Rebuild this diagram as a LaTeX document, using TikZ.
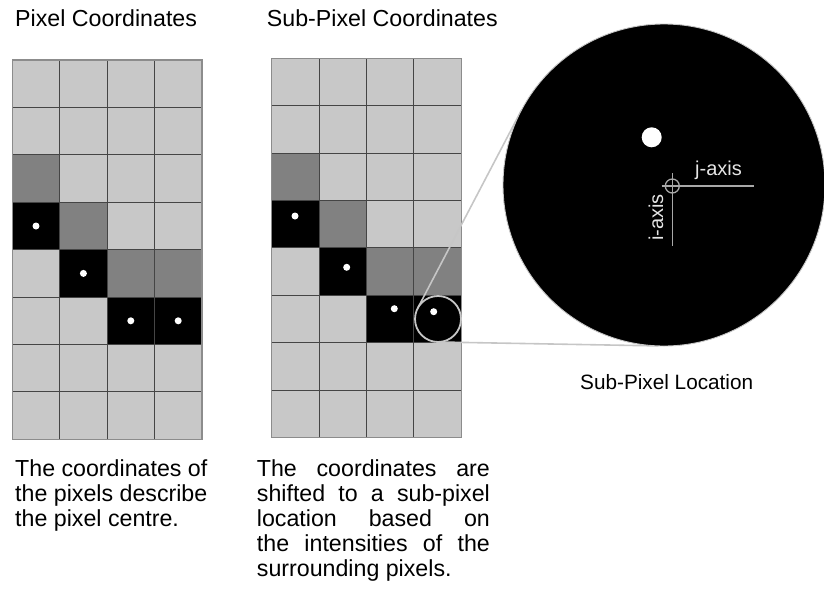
\documentclass[tikz,border=0pt]{standalone}
\usepackage{fontspec}
\setmainfont{Liberation Sans}
\definecolor{lightcell}{HTML}{C8C8C8}
\definecolor{darkcell}{HTML}{818181}
\definecolor{gridline}{HTML}{454545}
\definecolor{gridborder}{HTML}{8C8C8C}
\definecolor{lens}{HTML}{C6C6C6}
\definecolor{axiscol}{HTML}{A8A8A8}
\definecolor{axistext}{HTML}{E6E6E6}
\newcommand\mypixgrid[2]{%
  \fill[lightcell] (#1,#2) rectangle ++(189.6,379.2);
  \foreach \c/\r in {0/2,1/3,2/4,3/4}
    \fill[darkcell] ({#1+\c*47.4},{#2+\r*47.4}) rectangle ++(47.4,47.4);
  \foreach \c/\r in {0/3,1/4,2/5,3/5}
    \fill[black] ({#1+\c*47.4},{#2+\r*47.4}) rectangle ++(47.4,47.4);
  \foreach \i in {1,2,3}
    \draw[gridln] ({#1+\i*47.4},#2) -- ++(0,379.2);
  \foreach \j in {1,...,7}
    \draw[gridln] (#1,{#2+\j*47.4}) -- ++(189.6,0);
  \draw[gridbd] (#1,#2) rectangle ++(189.6,379.2);
}
\begin{document}
\begin{tikzpicture}[x=1pt,y=-1pt,
  gridln/.style={draw=gridline,line width=1pt},
  gridbd/.style={draw=gridborder,line width=1.2pt},
  pixdot/.style={circle,fill=white,inner sep=0pt,outer sep=0pt,minimum size=7pt},
  bodytext/.style={anchor=base west,inner sep=0pt,font=\fontsize{23.2}{25}\selectfont},
  lensline/.style={draw=lens,line width=1.6pt},
  axisline/.style={draw=axiscol,line width=1.4pt}]
\useasboundingbox (0,0) rectangle (824,597);

% titles
\node[bodytext] (t1) at (15,26.7) {Pixel Coordinates};
\node[bodytext] (t2) at (266.7,26.7) {Sub-Pixel Coordinates};

% grids
\mypixgrid{12.3}{60}
\mypixgrid{271.7}{58.3}

% pixel-centre dots (left)
\node[pixdot] (l1) at (36,226) {};
\node[pixdot] (l2) at (83.4,273.4) {};
\node[pixdot] (l3) at (130.8,320.8) {};
\node[pixdot] (l4) at (178.2,320.8) {};

% sub-pixel dots (right)
\node[pixdot] (r1) at (295,216) {};
\node[pixdot] (r2) at (346.7,267.3) {};
\node[pixdot] (r3) at (394.3,308.7) {};
\node[pixdot] (r4) at (433.7,311.7) {};

% magnifier
\node[circle,draw=lens,line width=1.8pt,inner sep=0pt,outer sep=0pt,minimum size=46pt] (small) at (438,319) {};
\node[circle,inner sep=0pt,outer sep=0pt,minimum size=322pt] (bigref) at (664,185) {};
\draw[lensline] (small.152.4) -- (bigref.152.4);
\draw[lensline] (small.268.97) -- (bigref.268.97);
\node[circle,fill=black,draw=lens,line width=0.9pt,inner sep=0pt,outer sep=0pt,minimum size=322pt] (big) at (664,185) {};

% inside big circle
\node[circle,fill=white,inner sep=0pt,minimum size=20pt] (bigdot) at (651.7,137.3) {};
\coordinate (ax) at (672.3,186);
\coordinate (hs) at (661.7,186);
\coordinate (he) at (754,186);
\coordinate (vs) at (672.3,173.3);
\coordinate (ve) at (672.3,246);
\draw[axisline] (hs) -- (he);
\draw[axisline] (vs) -- (ve);
\node[circle,draw=axiscol,line width=1.3pt,inner sep=0pt,minimum size=14pt] (cross) at (ax) {};
\node[anchor=base west,inner sep=0pt,text=axistext,font=\fontsize{20}{22}\selectfont] (jaxis) at (695,175) {j-axis};
\node[anchor=base,rotate=90,inner sep=0pt,text=axistext,font=\fontsize{20}{22}\selectfont] (iaxis) at (663,217.5) {i-axis};

\node[anchor=base,inner sep=0pt,font=\fontsize{20.75}{22}\selectfont] (loc) at (666.7,389.3) {Sub-Pixel Location};

% left caption
\node[bodytext] (a1) at (15,476) {The coordinates of};
\node[bodytext] (a2) at (15,501) {the pixels describe};
\node[bodytext] (a3) at (15,526) {the pixel centre.};

% right caption (justified)
\node[bodytext] (b1) at (256.7,476) {\makebox[233pt][s]{The coordinates are}};
\node[bodytext] (b2) at (256.7,501) {\makebox[233pt][s]{shifted to a sub-pixel}};
\node[bodytext] (b3) at (256.7,526) {\makebox[233pt][s]{location based on}};
\node[bodytext] (b4) at (256.7,551) {\makebox[233pt][s]{the intensities of the}};
\node[bodytext] (b5) at (256.7,576) {surrounding pixels.};
\end{tikzpicture}
\end{document}
